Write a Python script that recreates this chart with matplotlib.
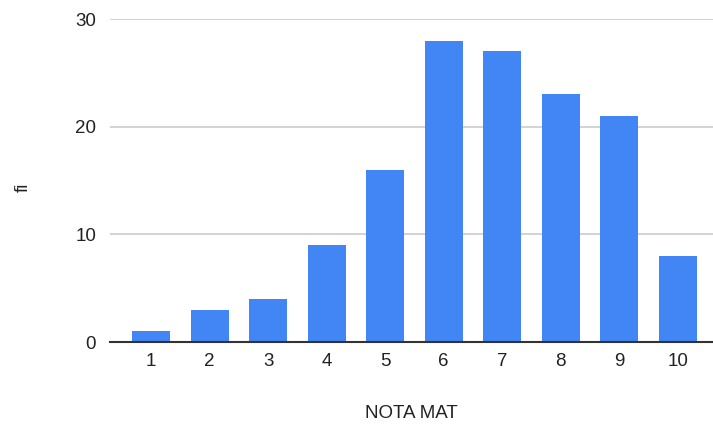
import matplotlib
matplotlib.use("Agg")
import matplotlib.pyplot as plt

notas = ["1", "2", "3", "4", "5", "6", "7", "8", "9", "10"]
fi = [1, 3, 4, 9, 16, 28, 27, 23, 21, 8]
yticks = [0, 10, 20, 30]

plt.rcParams['font.family'] = ['Liberation Sans', 'DejaVu Sans']

fig = plt.figure(figsize=(7.13, 4.28), dpi=100)
ax = fig.add_axes([0.1543, 0.2009, 0.8457, 0.7547])

xs = list(range(1, len(notas) + 1))
ax.bar(xs, fi, width=0.65, color="#4285F4", zorder=3)

ax.set_xlim(0.3, 10.6)
ax.set_ylim(0, 30)
ax.set_yticks(yticks)
ax.set_xticks(xs)
ax.set_xticklabels(notas)
ax.yaxis.grid(True, color="#cccccc", linewidth=1.2, zorder=0)

for s in ["top", "right", "left"]:
    ax.spines[s].set_visible(False)
ax.spines["bottom"].set_color("#333333")
ax.spines["bottom"].set_linewidth(1.5)
ax.spines["bottom"].set_zorder(4)

ax.tick_params(axis="both", length=0, labelsize=13.5, colors="#222222")
ax.tick_params(axis="y", pad=10)
ax.tick_params(axis="x", pad=8)

ax.set_xlabel("NOTA MAT", fontsize=13.5, color="#222222", labelpad=25)
ax.set_ylabel("fi", fontsize=13.5, color="#222222")
ax.yaxis.set_label_coords(-0.13, 0.48)

fig.savefig("out.png", dpi=100)
